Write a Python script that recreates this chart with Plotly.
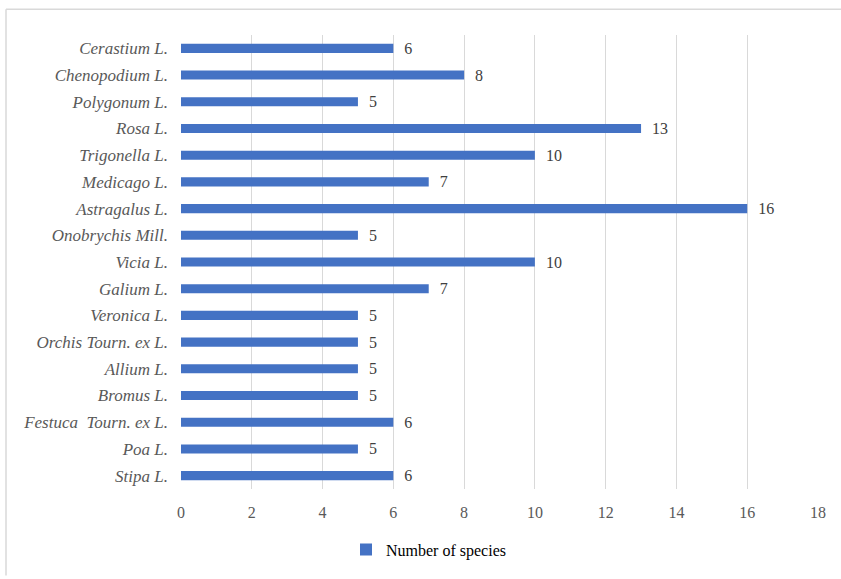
import plotly.graph_objects as go

# Genera and their species counts (top to bottom as listed)
genera = [
    "Cerastium L.", "Chenopodium L.", "Polygonum L.", "Rosa L.", "Trigonella L.",
    "Medicago L.", "Astragalus L.", "Onobrychis Mill.", "Vicia L.", "Galium L.",
    "Veronica L.", "Orchis Tourn. ex L.", "Allium L.", "Bromus L.",
    "Festuca  Tourn. ex L.", "Poa L.", "Stipa L.",
]
species_counts = [6, 8, 5, 13, 10, 7, 16, 5, 10, 7, 5, 5, 5, 5, 6, 5, 6]
x_ticks = [0, 2, 4, 6, 8, 10, 12, 14, 16, 18]

BAR_COLOR = "#4472C4"
TEXT_GRAY = "#595959"
SERIF = "Liberation Serif"

fig = go.Figure()
fig.add_trace(go.Bar(
    x=species_counts,
    y=genera,
    orientation="h",
    name="Number of species",
    marker=dict(color=BAR_COLOR, line=dict(width=0)),
    width=0.34,
    text=species_counts,
    texttemplate="  %{x}",
    textposition="outside",
    constraintext="none",
    textfont=dict(family=SERIF, size=16, color="#404040"),
    cliponaxis=False,
))

# Outer chart frame (top and left edges)
W, H = 841, 579
L, R, T, B = 181, 23, 35, 87
pw, ph = W - L - R, H - T - B
def px_x(p):
    return (p - L) / pw
def px_y(p):
    return (H - B - p) / ph

frame = dict(color="#d9d9d9", width=1.5)
fig.add_shape(type="line", xref="paper", yref="paper",
              x0=px_x(6), x1=px_x(841), y0=px_y(9), y1=px_y(9), line=frame)
fig.add_shape(type="line", xref="paper", yref="paper",
              x0=px_x(6), x1=px_x(6), y0=px_y(9), y1=px_y(579), line=frame)

fig.update_layout(
    width=W, height=H,
    margin=dict(l=L, r=R, t=T, b=B),
    paper_bgcolor="white",
    plot_bgcolor="white",
    bargap=0.5,
    font=dict(family=SERIF, size=16, color=TEXT_GRAY),
    showlegend=True,
    legend=dict(
        orientation="h",
        x=px_x(346), xanchor="left",
        y=px_y(553), yanchor="middle",
        font=dict(family=SERIF, size=16, color="#000000"),
        itemwidth=30,
    ),
    xaxis=dict(
        range=[0, 18],
        tickvals=x_ticks,
        showgrid=True,
        gridcolor="#d9d9d9",
        gridwidth=1,
        zeroline=False,
        showline=False,
        ticks="",
        ticklabelstandoff=12,
        tickfont=dict(family=SERIF, size=16, color=TEXT_GRAY),
    ),
    yaxis=dict(
        categoryorder="array",
        categoryarray=genera[::-1],
        range=[-0.5, len(genera) - 0.5],
        showgrid=False,
        zeroline=False,
        showline=False,
        ticks="",
        ticklabelstandoff=12,
        tickfont=dict(family=SERIF, size=17, color=TEXT_GRAY, style="italic"),
    ),
)

fig.write_html("out.html")
